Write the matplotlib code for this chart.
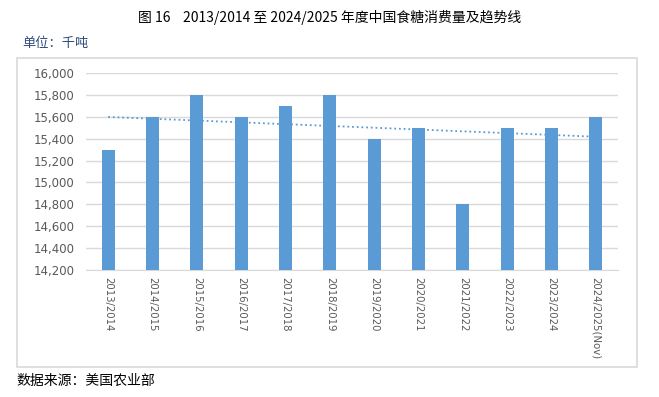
import numpy as np
import matplotlib
matplotlib.use('Agg')
import matplotlib.pyplot as plt
from matplotlib.patches import Rectangle

plt.rcParams['font.family'] = ['Noto Sans CJK SC', 'DejaVu Sans']

# data
seasons = ['2013/2014', '2014/2015', '2015/2016', '2016/2017', '2017/2018', '2018/2019',
           '2019/2020', '2020/2021', '2021/2022', '2022/2023', '2023/2024', '2024/2025(Nov)']
consumption = [15300, 15600, 15800, 15600, 15700, 15800, 15400, 15500, 14800, 15500, 15500, 15600]
yticks = [14200, 14400, 14600, 14800, 15000, 15200, 15400, 15600, 15800, 16000]

bar_color = '#5B9BD5'
grid_color = '#D9D9D9'
tick_color = '#595959'

fig = plt.figure(figsize=(6.59, 3.97), dpi=100)

# outer chart frame
fig.patches.append(Rectangle((17 / 659, 1 - 367 / 397), 620 / 659, 309 / 397,
                             transform=fig.transFigure, fill=False,
                             edgecolor=grid_color, linewidth=1.2))

ax = fig.add_axes([86 / 659, 0.32, 532 / 659, 0.496])
x = np.arange(len(seasons))
ax.bar(x, consumption, width=0.3, color=bar_color, zorder=3)

# linear trend line
k, b = np.polyfit(x, consumption, 1)
ax.plot(x, k * x + b, linestyle=(0, (1, 1.6)), color=bar_color, linewidth=1.3, zorder=4)

ax.set_ylim(14200, 16000)
ax.set_xlim(-0.5, len(seasons) - 0.5)
ax.set_yticks(yticks)
ax.set_yticklabels([f'{v:,}' for v in yticks], fontsize=8.5, color=tick_color, family='DejaVu Sans')
ax.set_xticks(x)
ax.set_xticklabels(seasons, rotation=270, fontsize=7.3, color=tick_color, family='DejaVu Sans')
ax.tick_params(axis='y', length=0, pad=8)
ax.tick_params(axis='x', length=0, pad=5)
ax.grid(axis='y', color=grid_color, linewidth=1, zorder=0)
for s in ['top', 'right', 'left']:
    ax.spines[s].set_visible(False)
ax.spines['bottom'].set_color(grid_color)

fig.text(0.5, 1 - 17 / 397, '图 16    2013/2014 至 2024/2025 年度中国食糖消费量及趋势线',
         ha='center', va='center', fontsize=10, color='black')
fig.text(22 / 659, 1 - 43 / 397, '单位：千吨', ha='left', va='center', fontsize=9.5, color='#2E4A7A')
fig.text(16 / 659, 1 - 381 / 397, '数据来源：美国农业部', ha='left', va='center', fontsize=10, color='black')

fig.savefig('out.png', dpi=100)
